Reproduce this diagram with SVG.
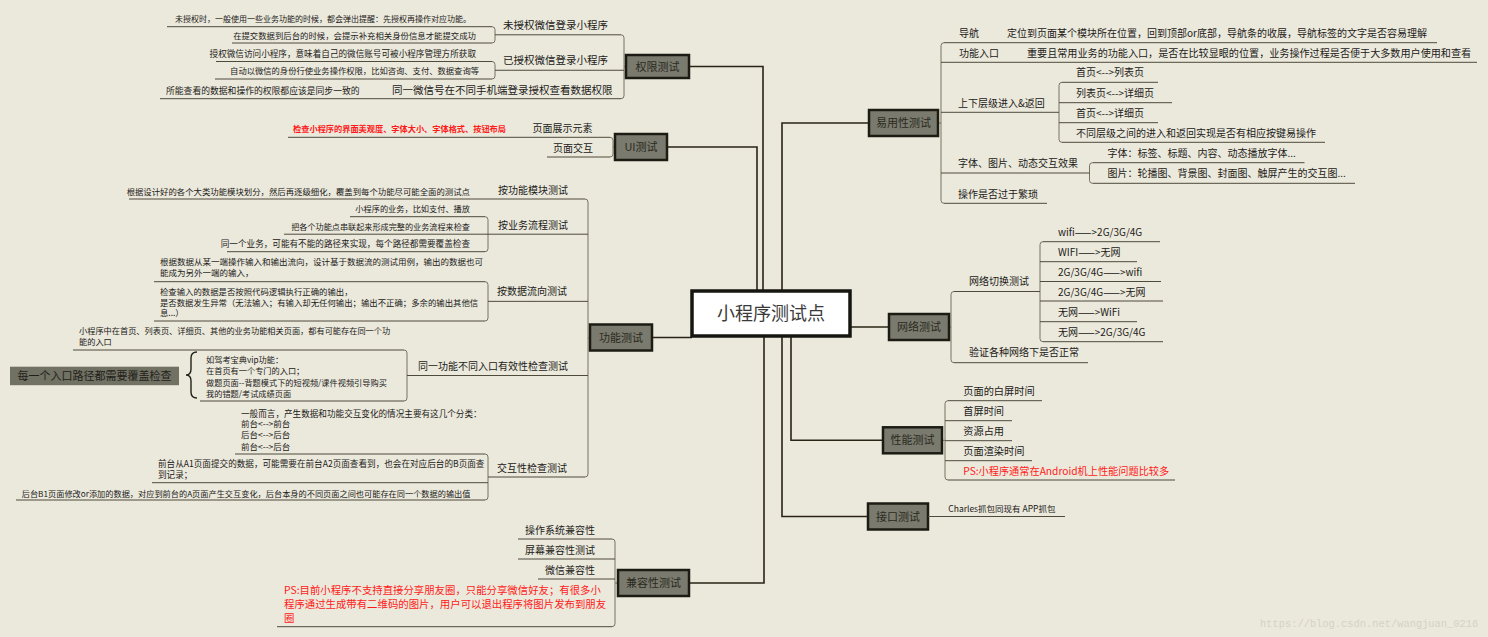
<svg xmlns="http://www.w3.org/2000/svg" width="1488" height="637" viewBox="0 0 1488 637">
<style>
text{font-family:"Noto Sans CJK SC","Noto Sans",sans-serif;fill:#222018}
.t2{font-size:10px}
.t25{font-size:10.5px}
.mt{font-size:11px;text-anchor:middle;fill:#2a2a20}
.red{fill:#ff1a1a}
.e{text-anchor:end}
.ul{stroke:#4e4a3c;stroke-width:1;fill:none}
.br{stroke:#77725f;stroke-width:1;fill:none}
.cn{stroke:#2a2415;stroke-width:1.6;fill:none}
.mb{fill:#7a7a6e;stroke:#1c1c14;stroke-width:2.5}
.wm{font-family:"Liberation Mono",monospace;font-size:10.4px;fill:#d4d2c4}
.root{font-size:18px;text-anchor:middle;fill:#3a3a3a}
</style>
<rect width="1488" height="637" fill="#ebe9dc"/>

<g id="connectors">
<path class="cn" d="M689 66.5 H763 V291"/>
<path class="cn" d="M667 147 H757 V291"/>
<path class="cn" d="M869 123 H782 V291"/>
<path class="cn" d="M652 337.5 H692"/>
<path class="cn" d="M850 327 H889"/>
<path class="cn" d="M689 583 H764 V336"/>
<path class="cn" d="M868 516.5 H782 V336"/>
<path class="cn" d="M883 440.3 H791 V336"/>
<path class="br" d="M621 34.8 Q624 34.8 624 37.8 L624 95.7 Q624 98.7 621 98.7 M624 66.7 H626"/>
<path class="br" d="M492 26.7 Q495 26.7 495 29.7 L495 40 Q495 43 492 43"/>
<path class="br" d="M492 61.5 Q495 61.5 495 64.5 L495 76 Q495 79 492 79"/>
<path class="br" d="M610 137.3 Q613 137.3 613 140.3 L613 154 Q613 157 610 157 M613 147 H615"/>
<path class="br" d="M585 199 Q588 199 588 202 L588 474 Q588 477 585 477 M588 338 H590"/>
<path class="br" d="M485 216.7 Q488 216.7 488 219.7 L488 248.7 Q488 251.7 485 251.7"/>
<path class="br" d="M485 281.7 Q488 281.7 488 284.7 L488 318 Q488 321 485 321"/>
<path class="br" d="M404 350 Q407 350 407 353 L407 398 Q407 401 404 401"/>
<path class="br" d="M485 454 Q488 454 488 457 L488 497 Q488 500 485 500"/>
<path class="br" d="M612 539 Q615 539 615 542 L615 623.7 Q615 626.7 612 626.7 M615 583 H618"/>
<path class="br" d="M944 42.7 Q941 42.7 941 45.7 L941 200.3 Q941 203.3 944 203.3 M941 123 H938"/>
<path class="br" d="M1062 82.3 Q1059 82.3 1059 85.3 L1059 139.3 Q1059 142.3 1062 142.3"/>
<path class="br" d="M1092.5 162.7 Q1089.5 162.7 1089.5 165.7 L1089.5 180.3 Q1089.5 183.3 1092.5 183.3"/>
<path class="br" d="M954 291.5 Q951 291.5 951 294.5 L951 359.7 Q951 362.7 954 362.7 M951 327 H949"/>
<path class="br" d="M1043 241.7 Q1040 241.7 1040 244.7 L1040 338.7 Q1040 341.7 1043 341.7"/>
<path class="br" d="M948 400.7 Q945 400.7 945 403.7 L945 477 Q945 480 948 480 M945 440.3 H942"/>
</g>

<g id="root">
<rect x="692" y="291" width="158" height="45" fill="#ffffff" stroke="#161610" stroke-width="3.5"/>
<text class="root" x="771" y="320">小程序测试点</text>
</g>

<g id="n-quanxian"><rect class="mb" x="626" y="55" width="63" height="23"/><text class="mt" x="657.5" y="70.5">权限测试</text></g>
<g id="n-qx-1"><text class="t25" x="503" y="28.5">未授权微信登录小程序</text><path class="ul" d="M495 34.8 H621"/></g>
<g id="n-qx-1a"><text class="e" font-size="8" x="471" y="21.5">未授权时，一般使用一些业务功能的时候，都会弹出提醒：先授权再操作对应功能。</text><path class="ul" d="M167 26.7 H492"/></g>
<g id="n-qx-1b"><text class="e" font-size="8.4" x="476" y="39">在提交数据到后台的时候，会提示补充相关身份信息才能提交成功</text><path class="ul" d="M232 43 H492"/></g>
<g id="n-qx-2"><text class="t25" x="503" y="63.5">已授权微信登录小程序</text><path class="ul" d="M495 70.25 H624"/></g>
<g id="n-qx-2a"><text class="e" font-size="8.6" x="476" y="56.5">授权微信访问小程序，意味着自己的微信账号可被小程序管理方所获取</text><path class="ul" d="M216 61.5 H492"/></g>
<g id="n-qx-2b"><text class="e" font-size="8.3" x="479" y="74">自动以微信的身份行使业务操作权限，比如咨询、支付、数据查询等</text><path class="ul" d="M215 79 H492"/></g>
<g id="n-qx-3"><text class="t25" x="392" y="93.5">同一微信号在不同手机端登录授权查看数据权限</text><path class="ul" d="M385 98.7 H621"/></g>
<g id="n-qx-3a"><text font-size="8.8" x="166" y="93.5">所能查看的数据和操作的权限都应该是同步一致的</text><path class="ul" d="M160 98.7 H385"/></g>

<g id="n-ui"><rect class="mb" x="615" y="134" width="52" height="26"/><text class="mt" x="641" y="151">UI测试</text></g>
<g id="n-ui-1"><text class="t2" x="532.5" y="131.5">页面展示元素</text><path class="ul" d="M520 137.3 H610"/></g>
<g id="n-ui-1a"><text class="e red" font-size="8.2" font-weight="bold" x="506" y="132.3">检查小程序的界面美观度、字体大小、字体格式、按钮布局</text><path class="ul" d="M288 137.3 H520"/></g>
<g id="n-ui-2"><text class="t2" x="553" y="151.5">页面交互</text><path class="ul" d="M547 157 H610"/></g>

<g id="n-gn"><rect class="mb" x="590" y="324.5" width="62" height="26"/><text class="mt" x="621" y="341.5">功能测试</text></g>
<g id="n-gn-1"><text class="t2" x="498" y="193.5">按功能模块测试</text><path class="ul" d="M490 199 H585"/></g>
<g id="n-gn-1a"><text class="e" font-size="8.4" x="470" y="194.7">根据设计好的各个大类功能模块划分，然后再逐级细化，覆盖到每个功能尽可能全面的测试点</text><path class="ul" d="M129 199 H490"/></g>
<g id="n-gn-2"><text class="t2" x="498" y="228.5">按业务流程测试</text><path class="ul" d="M488 234.2 H588"/></g>
<g id="n-gn-2a"><text class="e" font-size="8.2" x="470" y="212">小程序的业务，比如支付、播放</text><path class="ul" d="M350 216.7 H485"/></g>
<g id="n-gn-2b"><text class="e" font-size="8.15" x="470" y="229.7">把各个功能点串联起来形成完整的业务流程来检查</text><path class="ul" d="M284 234.2 H488"/></g>
<g id="n-gn-2c"><text class="e" font-size="8.6" x="470" y="247">同一个业务，可能有不能的路径来实现，每个路径都需要覆盖检查</text><path class="ul" d="M227 251.7 H485"/></g>
<g id="n-gn-3"><text class="t2" x="497" y="295.2">按数据流向测试</text><path class="ul" d="M488 301.35 H588"/></g>
<g id="n-gn-3a"><text font-size="8.5" x="160" y="264.7">根据数据从某一端操作输入和输出流向，设计基于数据流的测试用例，输出的数据也可</text><text font-size="8.5" x="160" y="276.3">能成为另外一端的输入，</text><path class="ul" d="M154 281.7 H485"/></g>
<g id="n-gn-3b"><text font-size="8.4" x="160" y="294.7">检查输入的数据是否按照代码逻辑执行正确的输出，</text><text font-size="8.4" x="160" y="305.7">是否数据发生异常（无法输入；有输入却无任何输出；输出不正确；多余的输出其他信</text><text font-size="8.4" x="160" y="316.3">息...）</text><path class="ul" d="M154 321 H485"/></g>
<g id="n-gn-4"><text class="t2" x="418" y="370.2">同一功能不同入口有效性检查测试</text><path class="ul" d="M407 375.5 H588"/></g>
<g id="n-gn-4a"><text font-size="8.2" x="79" y="334">小程序中在首页、列表页、详细页、其他的业务功能相关页面，都有可能存在同一个功</text><text font-size="8.2" x="79" y="344.7">能的入口</text><path class="ul" d="M73 350 H404"/></g>
<g id="n-gn-4b"><text font-size="8.2" x="206" y="363">如驾考宝典vip功能：</text><text font-size="8.2" x="206" y="374">在首页有一个专门的入口；</text><text font-size="8.2" x="206" y="386.3">做题页面--背题模式下的短视频/课件视频引导购买</text><text font-size="8.2" x="206" y="397">我的错题/考试成绩页面</text><path class="ul" d="M200 401 H404"/>
<path d="M197 352 Q191 352 191 358 L191 369 Q191 375 186 375 Q191 375 191 381 L191 392 Q191 398 197 398" fill="none" stroke="#222018" stroke-width="1.4"/></g>
<g id="n-gn-4c"><rect x="10" y="366.7" width="169" height="18.5" fill="#717164"/><text font-size="11" x="94.5" y="380" text-anchor="middle">每一个入口路径都需要覆盖检查</text></g>
<g id="n-gn-5"><text class="t2" x="497" y="471.8">交互性检查测试</text><path class="ul" d="M488 477 H585"/></g>
<g id="n-gn-5a"><text font-size="8.6" x="241" y="417">一般而言，产生数据和功能交互变化的情况主要有这几个分类：</text><text font-size="8.5" x="241" y="427.3">前台&lt;--&gt;前台</text><text font-size="8.5" x="241" y="438">后台&lt;--&gt;后台</text><text font-size="8.5" x="241" y="449.7">前台&lt;--&gt;后台</text><path class="ul" d="M235 454 H485"/></g>
<g id="n-gn-5b"><text font-size="8.6" x="158" y="467">前台从A1页面提交的数据，可能需要在前台A2页面查看到，也会在对应后台的B页面查</text><text font-size="8.6" x="158" y="478">到记录；</text><path class="ul" d="M152 482.7 H488"/></g>
<g id="n-gn-5c"><text class="e" font-size="8.2" x="470.5" y="497">后台B1页面修改or添加的数据，对应到前台的A页面产生交互变化，后台本身的不同页面之间也可能存在同一个数据的输出值</text><path class="ul" d="M16 500 H485"/></g>

<g id="n-jr"><rect class="mb" x="618" y="570" width="71" height="26"/><text class="mt" x="653.5" y="587">兼容性测试</text></g>
<g id="n-jr-1"><text class="t2 e" x="595" y="533.5">操作系统兼容性</text><path class="ul" d="M518 539 H612"/></g>
<g id="n-jr-2"><text class="t2 e" x="595" y="553.5">屏幕兼容性测试</text><path class="ul" d="M518 559 H615"/></g>
<g id="n-jr-3"><text class="t2 e" x="595" y="573.5">微信兼容性</text><path class="ul" d="M538 579 H615"/></g>
<g id="n-jr-4"><text class="red" font-size="10.4" x="284" y="593.5">PS:目前小程序不支持直接分享朋友圈，只能分享微信好友；有很多小</text><text class="red" font-size="10.4" x="284" y="607.5">程序通过生成带有二维码的图片，用户可以退出程序将图片发布到朋友</text><text class="red" font-size="10.4" x="284" y="621.5">圈</text><path class="ul" d="M277 626.7 H612"/></g>

<g id="n-yy"><rect class="mb" x="869" y="110" width="69" height="26"/><text class="mt" x="903.5" y="127">易用性测试</text></g>
<g id="n-yy-1"><text class="t2" x="959" y="37">导航</text><path class="ul" d="M944 42.7 H1000"/></g>
<g id="n-yy-1a"><text class="t2" x="1007" y="37">定位到页面某个模块所在位置，回到顶部or底部，导航条的收展，导航标签的文字是否容易理解</text><path class="ul" d="M1000 42.7 H1437"/></g>
<g id="n-yy-2"><text class="t2" x="959" y="57">功能入口</text><path class="ul" d="M941 62.3 H1020"/></g>
<g id="n-yy-2a"><text font-size="10.1" x="1027" y="57">重要且常用业务的功能入口，是否在比较显眼的位置，业务操作过程是否便于大多数用户使用和查看</text><path class="ul" d="M1020 62.3 H1477"/></g>
<g id="n-yy-3"><text class="t2" x="958" y="107">上下层级进入&amp;返回</text><path class="ul" d="M941 112.3 H1059"/></g>
<g id="n-yy-3a"><text class="t2" x="1076" y="76.2">首页&lt;--&gt;列表页</text><path class="ul" d="M1062 82.3 H1158"/></g>
<g id="n-yy-3b"><text class="t2" x="1076" y="96.5">列表页&lt;--&gt;详细页</text><path class="ul" d="M1059 102.7 H1172"/></g>
<g id="n-yy-3c"><text class="t2" x="1076" y="116.8">首页&lt;--&gt;详细页</text><path class="ul" d="M1059 122.7 H1158"/></g>
<g id="n-yy-3d"><text class="t2" x="1076" y="136.8">不同层级之间的进入和返回实现是否有相应按键易操作</text><path class="ul" d="M1062 142.3 H1325"/></g>
<g id="n-yy-4"><text class="t2" x="958" y="166.8">字体、图片、动态交互效果</text><path class="ul" d="M941 173 H1089.5"/></g>
<g id="n-yy-4a"><text class="t2" x="1107.5" y="156.8">字体：标签、标题、内容、动态播放字体...</text><path class="ul" d="M1092.5 162.7 H1304.5"/></g>
<g id="n-yy-4b"><text class="t2" x="1107.5" y="176.8">图片：轮播图、背景图、封面图、触屏产生的交互图...</text><path class="ul" d="M1092.5 183.3 H1355"/></g>
<g id="n-yy-5"><text class="t2" x="958" y="197.5">操作是否过于繁琐</text><path class="ul" d="M944 203.3 H1047"/></g>

<g id="n-wl"><rect class="mb" x="889" y="314" width="60" height="26"/><text class="mt" x="919" y="331">网络测试</text></g>
<g id="n-wl-1"><text class="t2" x="969" y="285.2">网络切换测试</text><path class="ul" d="M954 291.5 H1040"/></g>
<g id="n-wl-1a"><text class="t2" x="1058" y="235.5">wifi——&gt;2G/3G/4G</text><path class="ul" d="M1043 241.7 H1160"/></g>
<g id="n-wl-1b"><text class="t2" x="1058" y="255.5">WIFI——&gt;无网</text><path class="ul" d="M1040 261.7 H1137"/></g>
<g id="n-wl-1c"><text class="t2" x="1058" y="275.5">2G/3G/4G——&gt;wifi</text><path class="ul" d="M1040 281.5 H1161"/></g>
<g id="n-wl-1d"><text class="t2" x="1058" y="295.5">2G/3G/4G——&gt;无网</text><path class="ul" d="M1040 301 H1163"/></g>
<g id="n-wl-1e"><text class="t2" x="1058" y="315.5">无网——&gt;WiFi</text><path class="ul" d="M1040 321.7 H1137"/></g>
<g id="n-wl-1f"><text class="t2" x="1058" y="335.5">无网——&gt;2G/3G/4G</text><path class="ul" d="M1043 341.7 H1163"/></g>
<g id="n-wl-2"><text class="t2" x="969" y="356.2">验证各种网络下是否正常</text><path class="ul" d="M954 362.7 H1088"/></g>

<g id="n-xn"><rect class="mb" x="883" y="427.3" width="59" height="26"/><text class="mt" x="912.5" y="444.3">性能测试</text></g>
<g id="n-xn-1"><text font-size="10.2" x="963.3" y="394.5">页面的白屏时间</text><path class="ul" d="M948 400.7 H1042"/></g>
<g id="n-xn-2"><text font-size="10.2" x="963.3" y="414.8">首屏时间</text><path class="ul" d="M945 420.7 H1012"/></g>
<g id="n-xn-3"><text font-size="10.2" x="963.3" y="434.8">资源占用</text><path class="ul" d="M945 440.7 H1012"/></g>
<g id="n-xn-4"><text font-size="10.2" x="963.3" y="454.5">页面渲染时间</text><path class="ul" d="M945 460.7 H1032"/></g>
<g id="n-xn-5"><text class="red" font-size="10.2" x="963.3" y="474.5">PS:小程序通常在Android机上性能问题比较多</text><path class="ul" d="M948 480 H1175"/></g>

<g id="n-jk"><rect class="mb" x="868" y="503.5" width="60" height="26"/><text class="mt" x="898" y="520.5">接口测试</text></g>
<g id="n-jk-1"><text font-size="8.5" x="948.3" y="511.5">Charles抓包同现有 APP抓包</text><path class="ul" d="M928 516.5 H1065"/></g>

<text class="wm" x="1260" y="627">https://blog.csdn.net/wangjuan_0216</text>
</svg>
